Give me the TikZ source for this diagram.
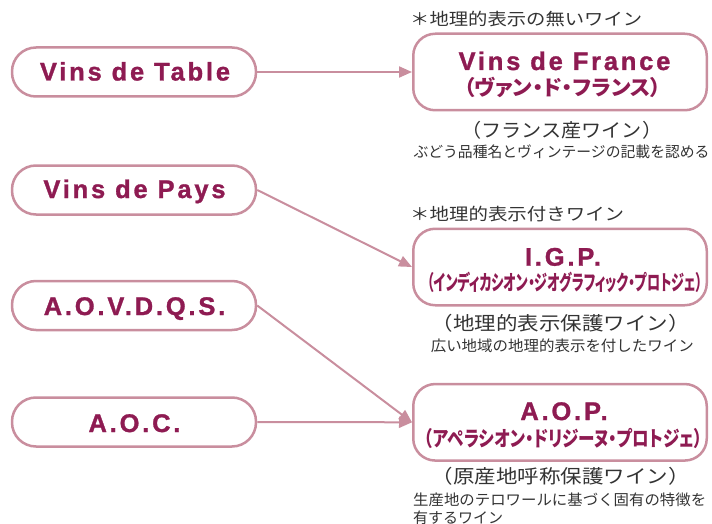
\documentclass[tikz,border=0pt]{standalone}
\usepackage{fontspec}
\usepackage{graphicx}
\usetikzlibrary{arrows.meta}
\newfontfamily\lat[LetterSpace=11, BoldFeatures={FakeBold=1.2}]{Liberation Sans}
\newfontfamily\jp{Noto Sans CJK JP}
\newfontfamily\jpk[RawFeature=+palt]{Noto Sans CJK JP}
\definecolor{wine}{HTML}{8E1B52}
\definecolor{rose}{HTML}{C98E9E}
\definecolor{inkc}{HTML}{333333}
\newcommand\fitto[2]{\resizebox{#1pt}{\height}{#2}}
\begin{document}
\begin{tikzpicture}[x=1pt,y=-1pt,
  leftbox/.style={draw=rose, line width=2.5pt, rounded corners=24pt, minimum width=244pt, minimum height=49pt, inner sep=0pt},
  rightbox/.style={draw=rose, line width=2.5pt, rounded corners=22pt, minimum width=293.5pt, minimum height=76.5pt, inner sep=0pt},
  title/.style={text=wine, font=\lat\bfseries\fontsize{25.5}{26}\selectfont, inner sep=0pt, anchor=base},
  kana/.style={text=wine, font=\jpk\bfseries\fontsize{21}{22}\selectfont, inner sep=0pt},
  note/.style={text=inkc, inner sep=0pt, font=\jp\fontsize{17}{18}\selectfont},
  paren/.style={text=inkc, inner sep=0pt, font=\jp\fontsize{19}{20}\selectfont},
  desc/.style={text=inkc, inner sep=0pt, font=\jp\fontsize{15}{16}\selectfont},
  link/.style={draw=rose, line width=2pt, -{Triangle[length=13pt,width=11pt]}}]
\useasboundingbox (0,0) rectangle (712,524);

% left boxes
\node[leftbox] (table) at (134,72) {};
\node[leftbox] (pays) at (134,190) {};
\node[leftbox] (aovdqs) at (134,305.5) {};
\node[leftbox] (aoc) at (134,422) {};
\node[title] (ttable) at (135,80.5) {Vins de Table};
\node[title] (tpays) at (134.5,198) {Vins de Pays};
\node[title] (taovdqs) at (134.5,315) {A.O.V.D.Q.S.};
\node[title] (taoc) at (134.5,432) {A.O.C.};

% right boxes
\node[rightbox] (france) at (560,72) {};
\node[rightbox] (igp) at (560,267) {};
\node[rightbox] (aop) at (560,422.3) {};
\node[title] (tfrance) at (564.5,70) {Vins de France};
\node[title] (tigp) at (563,265.7) {I.G.P.};
\node[title] (taop) at (564,420) {A.O.P.};
\node[kana] (kfrance) at (562.5,87.5) {\fitto{197}{（ヴァン・ド・フランス）}};
\node[kana] (kigp) at (565,282.5) {\fitto{275}{（インディカシオン・ジオグラフィック・プロトジェ）}};
\node[kana] (kaop) at (563.5,438) {\fitto{278}{（アペラシオン・ドリジーヌ・プロトジェ）}};

% notes
\node[note, anchor=west] (h1) at (410,19) {\fitto{232}{＊地理的表示の無いワイン}};
\node[paren] (s1) at (561.7,130) {\fitto{201}{（フランス産ワイン）}};
\node[desc] (d1) at (561.5,151.5) {\fitto{296}{ぶどう品種名とヴィンテージの記載を認める}};
\node[note, anchor=west] (h2) at (410,214) {\fitto{214}{＊地理的表示付きワイン}};
\node[paren] (s2) at (560.5,323) {\fitto{258}{（地理的表示保護ワイン）}};
\node[desc] (d2) at (562.3,345.8) {\fitto{263}{広い地域の地理的表示を付したワイン}};
\node[paren] (s3) at (560.5,476.7) {\fitto{258}{（原産地呼称保護ワイン）}};
\node[desc, anchor=west] (d3a) at (413,500) {\fitto{293}{生産地のテロワールに基づく固有の特徴を}};
\node[desc, anchor=west] (d3b) at (413,518) {\fitto{90}{有するワイン}};

% connectors
\draw[link] (table.east) -- (france.west);
\draw[link] (pays.east) -- (igp.west);
\draw[link] (aovdqs.east) -- (aop.west);
\draw[link] (aoc.east) -- (aop.west);
\end{tikzpicture}
\end{document}
